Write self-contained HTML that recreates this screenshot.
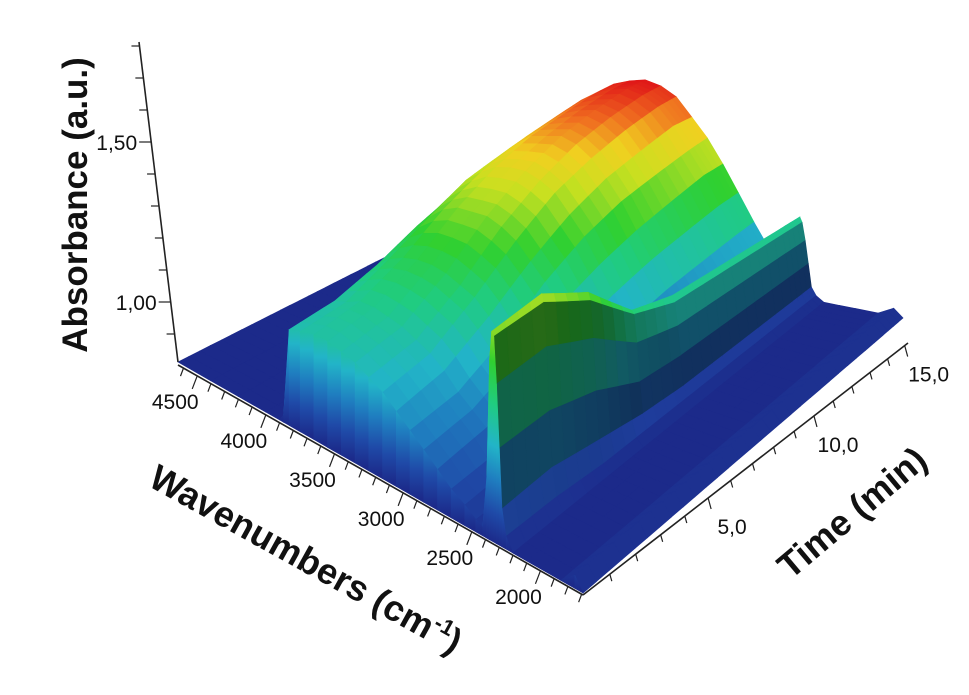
<!DOCTYPE html>
<html><head><meta charset="utf-8"><style>
html,body{margin:0;padding:0;background:#fff;width:969px;height:695px;overflow:hidden}
svg{display:block}
text{font-family:"Liberation Sans",Arial,sans-serif;fill:#111}
</style></head><body>
<svg id="chart" width="969" height="695" viewBox="0 0 969 695">
<defs id="defs"></defs>
<g id="surface"></g>
<g id="skirt"></g>
<g id="axes"></g>
<text x="0" y="0" font-size="35" font-weight="bold" text-anchor="middle" transform="translate(87,205) rotate(-90)">Absorbance (a.u.)</text>
<text x="0" y="0" font-size="36" font-weight="bold" text-anchor="middle" transform="translate(300,570) rotate(29)">Wavenumbers (cm<tspan font-size="22" dy="-14">-1</tspan><tspan dy="14">)</tspan></text>
<text x="0" y="0" font-size="36" font-weight="bold" text-anchor="middle" transform="translate(860,522) rotate(-40)">Time (min)</text>
</svg>
<script>
const wavenumbers=[4640,4400,4200,4000,3900,3870,3830,3750,3650,3550,3450,3350,3250,3150,3050,2950,2850,2750,2650,2550,2470,2420,2390,2370,2355,2340,2320,2300,2280,2250,2200,2100,2000,1850,1750,1690];
const times=[0,2,4,6,8,10,12,14,15.2];
const absT0=[.85,.85,.85,.85,.85,.87,1.11,1.12,1.13,1.13,1.12,1.11,1.09,1.07,1.04,1.01,.98,.95,.92,.90,.88,.87,1.00,1.28,1.35,1.34,1.23,1.08,.94,.88,.85,.85,.85,.85,.88,.85];
const absT2=[.85,.85,.85,.85,.85,.87,1.13,1.14,1.16,1.16,1.15,1.14,1.12,1.10,1.07,1.03,1.00,.97,.93,.91,.88,.88,1.01,1.30,1.38,1.36,1.25,1.09,.95,.88,.85,.85,.85,.85,.88,.85];
const absT4=[.85,.85,.85,.85,.85,.88,1.18,1.21,1.23,1.24,1.24,1.23,1.21,1.19,1.15,1.10,1.06,1.01,.96,.93,.89,.88,1.01,1.26,1.32,1.30,1.20,1.06,.93,.87,.85,.85,.85,.85,.88,.85];
const absT6=[.85,.85,.85,.85,.85,.88,1.25,1.29,1.33,1.35,1.35,1.35,1.33,1.30,1.25,1.20,1.14,1.07,1.01,.95,.91,.89,.98,1.16,1.20,1.19,1.11,1.00,.91,.87,.85,.85,.85,.85,.88,.85];
const absT8=[.85,.85,.85,.85,.85,.89,1.31,1.37,1.41,1.44,1.45,1.45,1.43,1.40,1.34,1.28,1.20,1.12,1.04,.98,.92,.90,.97,1.13,1.17,1.15,1.08,.99,.90,.87,.85,.85,.85,.85,.88,.85];
const absT10=[.85,.85,.85,.85,.85,.89,1.36,1.42,1.47,1.51,1.52,1.53,1.51,1.47,1.41,1.34,1.25,1.16,1.07,.99,.93,.90,.97,1.13,1.17,1.15,1.08,.99,.90,.87,.85,.85,.85,.85,.88,.85];
const absT12=[.85,.85,.85,.85,.85,.89,1.40,1.47,1.52,1.56,1.58,1.59,1.57,1.53,1.46,1.38,1.29,1.19,1.09,1.01,.94,.91,.98,1.13,1.17,1.15,1.08,.99,.90,.87,.85,.85,.85,.85,.88,.85];
const absT14=[.85,.85,.85,.85,.85,.90,1.43,1.50,1.57,1.61,1.63,1.64,1.62,1.58,1.51,1.42,1.33,1.22,1.11,1.02,.94,.91,.98,1.13,1.17,1.15,1.08,.99,.90,.87,.85,.85,.85,.85,.88,.85];
const absT15=[.85,.85,.85,.85,.85,.90,1.44,1.52,1.58,1.63,1.65,1.66,1.64,1.60,1.52,1.44,1.34,1.23,1.12,1.02,.95,.91,.98,1.13,1.17,1.15,1.08,.99,.90,.87,.85,.85,.85,.85,.88,.85];
const absorbance=[absT0,absT2,absT4,absT6,absT8,absT10,absT12,absT14,absT15];
const wnTicks=[4500,4000,3500,3000,2500,2000];
const wnTickLabels=["4500","4000","3500","3000","2500","2000"];
const timeTicks=[5,10,15];
const timeTickLabels=["5,0","10,0","15,0"];
const absTicks=[1.0,1.5];
const absTickLabels=["1,00","1,50"];

const NS="http://www.w3.org/2000/svg";
function aOf(w){return (4640-w)/2950;}
function gOf(t){return Math.min(1,0.084*t/(1+0.0182*t));}
function proj(w,t,z){
  const a=aOf(w),g=gOf(t);
  const fx=178+405*a,fy=362+231*a,bx=445+458*a,by=227+91*a;
  const s=340*(1+0.3*a)*(1-0.4*g);
  return [fx+(bx-fx)*g, fy+(by-fy)*g-(z-0.85)*s];
}
const stops=[[0.85,[28,42,138]],[0.92,[31,74,168]],[1.00,[31,126,192]],[1.08,[34,180,200]],[1.18,[32,204,128]],[1.28,[48,208,48]],[1.40,[200,224,32]],[1.48,[240,208,32]],[1.56,[240,112,32]],[1.65,[224,24,24]]];
function cmap(z){
  if(z<=stops[0][0])return stops[0][1].slice();
  for(let i=1;i<stops.length;i++){if(z<=stops[i][0]){const p=(z-stops[i-1][0])/(stops[i][0]-stops[i-1][0]);return stops[i-1][1].map((c,k)=>c+(stops[i][1][k]-c)*p);}}
  return stops[stops.length-1][1].slice();
}
function rgb(c){return 'rgb('+c.map(v=>Math.round(v)).join(',')+')';}
const surf=document.getElementById('surface');
const SUB=4;
for(let i=times.length-2;i>=0;i--){
  for(let k=SUB-1;k>=0;k--){
    const pA=k/SUB,pB=(k+1)/SUB;
    const tA=times[i]+(times[i+1]-times[i])*pA, tB=times[i]+(times[i+1]-times[i])*pB;
    const rA=absorbance[i].map((v,j)=>v+(absorbance[i+1][j]-v)*pA);
    const rB=absorbance[i].map((v,j)=>v+(absorbance[i+1][j]-v)*pB);
    for(let j=0;j<wavenumbers.length-1;j++){
      const w0=wavenumbers[j],w1=wavenumbers[j+1];
      const P=[proj(w0,tA,rA[j]),proj(w1,tA,rA[j+1]),proj(w1,tB,rB[j+1]),proj(w0,tB,rB[j])];
      const zavg=(rA[j]+rA[j+1]+rB[j]+rB[j+1])/4;
      let c=cmap(zavg);
      const slope=((rA[j+1]+rB[j+1])-(rA[j]+rB[j]))/2/(aOf(w1)-aOf(w0));
      if(slope<-4){const f=1-0.5*Math.min(1,(-slope-4)/10);c=c.map(v=>v*f);}
      const col=rgb(c);
      const poly=document.createElementNS(NS,'polygon');
      poly.setAttribute('points',P.map(p=>p[0].toFixed(1)+','+p[1].toFixed(1)).join(' '));
      poly.setAttribute('fill',col);poly.setAttribute('stroke',col);poly.setAttribute('stroke-width','0.7');
      
      
      surf.appendChild(poly);
    }
  }
}
// front face at first time
const defs=document.getElementById('defs');
const skirt=document.getElementById('skirt');
const r0=absorbance[0];
for(let j=0;j<wavenumbers.length-1;j++){
  const w0=wavenumbers[j],w1=wavenumbers[j+1];
  if(r0[j]<=0.86&&r0[j+1]<=0.86)continue;
  const A=proj(w0,times[0],r0[j]),B=proj(w1,times[0],r0[j+1]),C=proj(w1,times[0],0.85),D=proj(w0,times[0],0.85);
  const mw=(w0+w1)/2;
  const bot=proj(mw,times[0],0.85),top=proj(mw,times[0],1.65);
  const gid='sg'+j;
  const lg=document.createElementNS(NS,'linearGradient');
  lg.setAttribute('id',gid);lg.setAttribute('gradientUnits','userSpaceOnUse');
  lg.setAttribute('x1',bot[0]);lg.setAttribute('x2',bot[0]);lg.setAttribute('y1',bot[1]);lg.setAttribute('y2',top[1]);
  stops.forEach(s=>{const st=document.createElementNS(NS,'stop');st.setAttribute('offset',((s[0]-0.85)/0.8).toFixed(3));st.setAttribute('stop-color',rgb(s[1]));lg.appendChild(st);});
  defs.appendChild(lg);
  const poly=document.createElementNS(NS,'polygon');
  poly.setAttribute('points',[A,B,C,D].map(p=>p[0].toFixed(1)+','+p[1].toFixed(1)).join(' '));
  poly.setAttribute('fill','url(#'+gid+')');poly.setAttribute('stroke','url(#'+gid+')');poly.setAttribute('stroke-width','0.6');
  
  
  skirt.appendChild(poly);
}
const axes=document.getElementById('axes');
function line(x1,y1,x2,y2,w,name){
  const l=document.createElementNS(NS,'line');
  l.setAttribute('x1',x1);l.setAttribute('y1',y1);l.setAttribute('x2',x2);l.setAttribute('y2',y2);
  l.setAttribute('stroke','#222');l.setAttribute('stroke-width',w);
  
  
  axes.appendChild(l);
}
function label(x,y,s,anchor,name){
  const t=document.createElementNS(NS,'text');
  t.setAttribute('x',x);t.setAttribute('y',y);t.setAttribute('font-size','21');t.setAttribute('text-anchor',anchor);
  t.textContent=s;
  
  
  axes.appendChild(t);
}
function wnPt(w){const a=aOf(w);return [178+405*a,365+230*a];}
line(178,365,583,595,1.6,'wavenumber-axis-line');
for(let w=4600;w>=1700;w-=100){const p=wnPt(w);const maj=(w%500===0);line(p[0],p[1],p[0]-(maj?5:3),p[1]+(maj?13:8),1.2,'wavenumber-tick');}
wnTicks.forEach((w,i)=>{const p=wnPt(w);label(p[0]-22,p[1]+33,wnTickLabels[i],'middle','wavenumber-tick-label');});
function tPt(t){const g=gOf(t);return [583+325*g,595-252*g];}
line(583,595,908,343,1.6,'time-axis-line');
for(let t=1;t<=15;t++){const p=tPt(t);const maj=(t%5===0);line(p[0],p[1],p[0]+(maj?3:2),p[1]+(maj?11:7),1.2,'time-tick');}
timeTicks.forEach((t,i)=>{const p=tPt(t);label(p[0]+24,p[1]+36,timeTickLabels[i],'middle','time-tick-label');});
function absY(v){return 302-(v-1)*320;}
function absX(y){return 178-(362-y)*0.122;}
line(178,362,139,42,1.6,'absorbance-axis-line');
for(let v=0.9;v<=1.81;v+=0.1){const y=absY(v);const x=absX(y);const maj=Math.abs(v-1)<0.01||Math.abs(v-1.5)<0.01;line(x,y,x-(maj?12:8),y,1.2,'absorbance-tick');}
absTicks.forEach((v,i)=>{const y=absY(v);label(absX(y)-14,y+8,absTickLabels[i],'end','absorbance-tick-label');});
</script>
</body></html>
